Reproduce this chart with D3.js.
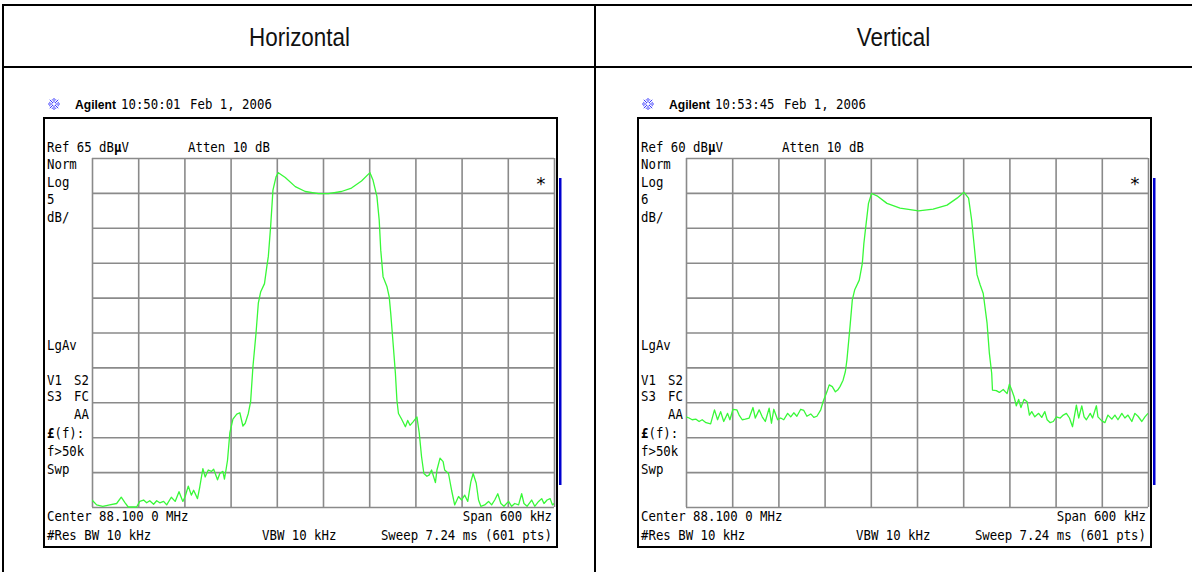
<!DOCTYPE html>
<html>
<head>
<meta charset="utf-8">
<script src="https://cdn.jsdelivr.net/npm/d3@7"></script>
<style>
  html, body { margin: 0; padding: 0; background: #fff; }
  svg { display: block; }
  text { white-space: pre; }
</style>
</head>
<body>
<svg id="chart" width="1192" height="572"></svg>
<script>
// Two spectrum-analyser captures of the same FM carrier, one per antenna polarisation.
const titles = ["Horizontal", "Vertical"];
const timeStamps = ["10:50:01", "10:53:45"];
const dateText = "Feb 1, 2006";
const refLevels = [65, 60];          // dBµV at top graticule line
const dbPerDiv = [5, 6];             // vertical scale
const divisions = 10;
const freqTicks = d3.range(-300, 301, 60);   // kHz from centre, one per division

// Horizontal polarisation trace: frequency offset (kHz) and level (dBµV)
const hFreq = [-300,-294,-286,-277,-268,-262,-257,-253,-242,-238,-233,-229,-225,-220,-216,-212,-207,-203,-197,-192,
  -187,-182,-179,-175,-171,-168,-163,-160,-156,-153,-149,-145,-142,-137,-134,-130,-128,-126,-124,-121,
  -117,-112,-108,-104,-101,-97,-94,-91,-87,-84,-81,-76,-73,-71,-68,-65,-61,-58,-49,-36,
  -23,-6,7,24,37,50,61,65,70,73,75,78,83,86,88,91,94,96,98,102,
  107,110,113,117,122,125,128,131,135,138,141,146,148,152,156,158,163,167,171,176,
  180,184,188,192,195,199,202,205,210,215,219,223,227,231,235,241,245,249,254,258,
  261,265,271,275,280,284,287,291,295,298,300];
const hLevel = [16.0,15.3,15.1,15.3,15.5,16.4,15.6,15.0,15.0,15.8,16.0,15.6,15.9,15.4,15.9,15.6,15.8,15.3,16.4,15.8,
  17.2,15.8,16.5,18.0,16.7,17.4,16.2,17.9,20.5,19.3,20.3,20.1,20.4,18.9,19.8,20.1,19.0,20.3,21.7,25.6,
  27.6,28.3,28.5,26.6,27.0,28.4,30.1,35.1,39.9,44.2,45.8,47.0,49.4,50.9,55.2,60.4,62.3,62.9,62.2,60.9,
  60.2,59.9,59.9,60.2,60.7,61.7,62.9,61.8,59.5,56.1,51.8,48.0,46.6,45.1,42.7,38.5,34.2,30.3,28.4,27.6,
  26.5,27.4,26.7,27.2,27.9,25.6,22.2,19.8,19.4,19.6,20.3,18.5,20.3,22.0,21.5,20.3,19.8,17.4,15.3,16.5,
  16.0,16.7,15.8,18.6,19.8,18.4,16.0,15.1,15.3,15.8,15.3,16.0,16.9,15.5,15.1,15.8,15.1,15.5,15.3,16.9,
  15.5,15.1,16.0,15.1,15.8,16.2,15.5,16.0,16.2,15.3,15.5];

// Vertical polarisation trace
const vFreq = [-300,-296,-292,-287,-283,-279,-274,-268,-263,-259,-255,-251,-246,-243,-239,-234,-231,-227,-223,-218,
  -213,-210,-205,-201,-197,-192,-189,-186,-181,-177,-173,-168,-164,-160,-156,-151,-147,-143,-138,-134,
  -130,-125,-122,-117,-114,-110,-106,-103,-100,-96,-93,-91,-87,-84,-81,-75,-71,-69,-66,-63,
  -59,-52,-39,-22,2,21,39,52,61,67,71,74,78,82,86,91,94,97,98,103,
  107,112,117,120,123,126,129,132,135,139,143,146,149,153,158,162,166,169,173,177,
  181,186,190,194,198,202,207,210,214,217,220,225,228,233,235,240,244,248,253,257,
  261,266,270,274,279,283,287,292,296,300];
const vLevel = [15.5,15.3,15.0,15.1,14.7,15.0,14.5,14.3,16.7,15.0,16.4,14.7,16.1,15.0,16.8,16.7,15.8,15.0,15.1,15.3,
  17.1,15.3,16.7,15.5,14.7,17.0,14.4,16.8,15.0,15.3,15.0,16.1,15.5,16.2,15.6,16.8,16.6,15.6,16.0,15.4,
  15.6,16.7,18.1,19.8,21.0,20.7,19.8,20.1,20.7,21.8,23.3,25.3,31.0,35.6,37.3,39.0,41.9,45.3,48.8,52.2,
  53.9,53.5,52.2,51.4,50.9,51.2,51.9,53.1,54.1,53.1,49.3,45.3,39.9,38.2,36.7,31.6,26.4,23.0,20.1,20.0,
  19.7,20.2,19.5,21.1,20.1,19.0,17.4,18.5,17.1,18.5,18.1,15.8,16.4,15.5,16.1,15.4,16.4,15.0,14.5,14.7,
  15.5,15.3,15.8,16.1,15.3,13.8,17.5,15.3,17.4,15.5,15.0,16.1,15.3,17.4,15.5,14.8,14.5,15.8,15.1,15.8,
  15.0,16.1,15.3,15.8,14.7,16.1,15.6,14.7,15.5,16.1];

const traces = [
  { freq: hFreq, level: hLevel },
  { freq: vFreq, level: vLevel }
];

// Instrument annotation text
const centerText = "Center 88.100 0 MHz";
const spanText = "Span 600 kHz";
const rbwText = "#Res BW 10 kHz";
const vbwText = "VBW 10 kHz";
const sweepText = "Sweep 7.24 ms (601 pts)";
const attenText = "Atten 10 dB";

const svg = d3.select("#chart");
const MONO = "'DejaVu Sans Mono', 'Liberation Mono', monospace";
const SX = 0.93;
const FS = 13.3;

// ---- table frame ----
const table = svg.append("g").attr("stroke", "#000").attr("stroke-width", 2).attr("fill", "none");
table.append("line").attr("x1", 3).attr("x2", 1192).attr("y1", 5).attr("y2", 5);
table.append("line").attr("x1", 3).attr("x2", 1192).attr("y1", 67).attr("y2", 67);
table.append("line").attr("x1", 3).attr("x2", 3).attr("y1", 4).attr("y2", 572);
table.append("line").attr("x1", 595).attr("x2", 595).attr("y1", 4).attr("y2", 572);

titles.forEach((t, i) => {
  svg.append("text")
    .attr("transform", `translate(${i === 0 ? 299.5 : 893.5},46) scale(0.88,1)`)
    .attr("text-anchor", "middle")
    .attr("font-family", "'Liberation Sans', Arial, sans-serif")
    .attr("font-size", 25.5)
    .attr("fill", "#111")
    .text(t);
});

function mono(g, x, y, str, anchor) {
  return g.append("text")
    .attr("transform", `translate(${x},${y}) scale(${SX},1)`)
    .attr("text-anchor", anchor || "start")
    .attr("font-family", MONO)
    .attr("font-size", FS)
    .attr("fill", "#000")
    .text(str);
}

function drawPanel(i) {
  const off = i * 594;
  const g = svg.append("g").attr("transform", `translate(${off},0)`);
  const ref = refLevels[i];
  const bottom = ref - dbPerDiv[i] * divisions;

  const x = d3.scaleLinear().domain([-300, 300]).range([92, 554]);
  const y = d3.scaleLinear().domain([bottom, ref]).range([507, 158]);
  const levelTicks = d3.range(0, divisions + 1).map(k => bottom + k * dbPerDiv[i]);

  // header: logo, brand, time and date
  const logo = g.append("g").attr("transform", "translate(54,104)")
    .attr("stroke", "#3a3aff").attr("stroke-width", 1);
  d3.range(0, 8).forEach(k => {
    const a = k * Math.PI / 4;
    logo.append("line")
      .attr("x1", Math.cos(a) * 1.5).attr("y1", Math.sin(a) * 1.5)
      .attr("x2", Math.cos(a) * 6).attr("y2", Math.sin(a) * 6);
  });
  d3.range(0, 8).forEach(k => {
    const a = k * Math.PI / 4 + Math.PI / 8;
    logo.append("circle").attr("r", 0.6).attr("fill", "#3a3aff").attr("stroke", "none")
      .attr("cx", Math.cos(a) * 4.5).attr("cy", Math.sin(a) * 4.5);
  });

  g.append("text")
    .attr("x", 75).attr("y", 109)
    .attr("font-family", "'Liberation Sans', Arial, sans-serif")
    .attr("font-weight", "bold").attr("font-size", 13.5)
    .attr("textLength", 41).attr("lengthAdjust", "spacingAndGlyphs")
    .text("Agilent");
  mono(g, 121, 109, timeStamps[i]);
  mono(g, 190, 109, dateText);

  // instrument screen frame
  g.append("rect").attr("x", 44).attr("y", 118).attr("width", 513).attr("height", 429)
    .attr("fill", "none").attr("stroke", "#000").attr("stroke-width", 2);

  // graticule built from the axes
  const gridStyle = sel => {
    sel.select(".domain").remove();
    sel.selectAll(".tick line").attr("stroke", "#8a8a8a").attr("stroke-width", 1.6);
    sel.selectAll(".tick text").remove();
  };
  g.append("g").attr("transform", "translate(0,507)")
    .call(d3.axisBottom(x).tickValues(freqTicks).tickSize(-349).tickSizeOuter(0).tickFormat(""))
    .call(gridStyle);
  g.append("g").attr("transform", "translate(92,0)")
    .call(d3.axisLeft(y).tickValues(levelTicks).tickSize(-462).tickSizeOuter(0).tickFormat(""))
    .call(gridStyle);

  // trace
  const clipId = "clip" + i;
  g.append("clipPath").attr("id", clipId)
    .append("rect").attr("x", 92).attr("y", 157).attr("width", 462).attr("height", 351);
  const pts = traces[i].freq.map((f, k) => [f, traces[i].level[k]]);
  g.append("path")
    .datum(pts)
    .attr("clip-path", `url(#${clipId})`)
    .attr("fill", "none")
    .attr("stroke", "#38f838")
    .attr("stroke-width", 1.3)
    .attr("stroke-linejoin", "round")
    .attr("d", d3.line().x(d => x(d[0])).y(d => y(d[1])));

  // blue bar at the right edge and the marker asterisk
  g.append("rect").attr("x", 559).attr("y", 178).attr("width", 2.5).attr("height", 307).attr("fill", "#0000d0");
  g.append("text")
    .attr("x", 541).attr("y", 190)
    .attr("text-anchor", "middle")
    .attr("font-family", MONO)
    .attr("font-size", 18)
    .text("*");

  // annotations
  const refT = mono(g, 47, 152, "");
  refT.append("tspan").text(`Ref ${ref} dB`);
  refT.append("tspan").attr("font-weight", "bold").text("µ");
  refT.append("tspan").text("V");
  mono(g, 188, 152, attenText);

  mono(g, 47, 169, "Norm");
  mono(g, 47, 186.5, "Log");
  mono(g, 47, 204, String(dbPerDiv[i]));
  mono(g, 47, 221.5, "dB/");
  mono(g, 47, 350, "LgAv");
  mono(g, 47, 385, "V1");
  mono(g, 89, 385, "S2", "end");
  mono(g, 47, 401, "S3");
  mono(g, 89, 401, "FC", "end");
  mono(g, 89, 419, "AA", "end");
  const lt = mono(g, 47, 438, "");
  lt.append("tspan").attr("font-weight", "bold").text("£");
  lt.append("tspan").text("(f):");
  mono(g, 47, 456, "f>50k");
  mono(g, 47, 474, "Swp");

  mono(g, 47, 521, centerText);
  mono(g, 552, 521, spanText, "end");
  mono(g, 47, 540, rbwText);
  mono(g, 262, 540, vbwText);
  mono(g, 552, 540, sweepText, "end");
}

drawPanel(0);
drawPanel(1);
</script>
</body>
</html>
